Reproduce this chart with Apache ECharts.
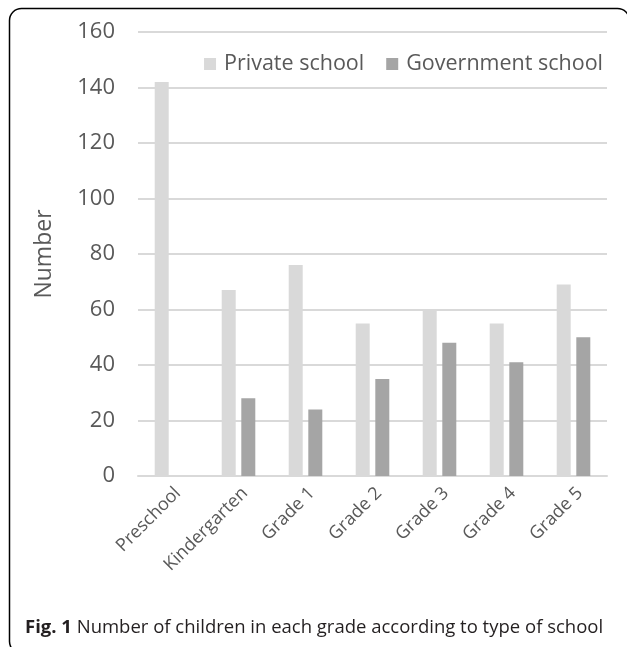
<!DOCTYPE html>
<html>
<head>
<meta charset="utf-8">
<script src="https://cdn.jsdelivr.net/npm/echarts@6/dist/echarts.min.js"></script>
<style>
html,body{margin:0;padding:0;background:#fff;}
#chart{width:627px;height:647px;}
</style>
</head>
<body>
<div id="chart"></div>
<script>
const categories = ['Preschool', 'Kindergarten', 'Grade 1', 'Grade 2', 'Grade 3', 'Grade 4', 'Grade 5'];
const privateSchool = [142, 67, 76, 55, 60, 55, 69];
const governmentSchool = [0, 28, 24, 35, 48, 41, 50];
const seriesNames = ['Private school', 'Government school'];
const yAxisTitle = 'Number';
const captionBold = 'Fig. 1';
const captionText = ' Number of children in each grade according to type of school';

const FONT = 'Open Sans';
const chart = echarts.init(document.getElementById('chart'), null, {renderer: 'canvas'});
chart.setOption({
  backgroundColor: '#fff',
  animation: false,
  grid: {left: 138, right: 20, top: 32, bottom: 171, containLabel: false},
  legend: {
    right: 19, top: 48,
    itemWidth: 12, itemHeight: 12, itemGap: 22,
    icon: 'rect',
    textStyle: {fontFamily: FONT, fontSize: 21.5, color: '#595959', padding: [0, 0, 0, 3]},
    data: seriesNames
  },
  xAxis: {
    type: 'category',
    data: categories,
    axisLine: {show: true, lineStyle: {color: '#d9d9d9', width: 2}},
    axisTick: {show: false},
    axisLabel: {rotate: 45, fontFamily: FONT, fontSize: 18, color: '#595959', margin: 8, interval: 0, verticalAlign: 'top'}
  },
  yAxis: {
    type: 'value',
    min: 0, max: 160, interval: 20,
    name: yAxisTitle,
    nameLocation: 'middle',
    nameGap: 82,
    nameTextStyle: {fontFamily: FONT, fontSize: 23, color: '#595959'},
    axisLine: {show: false},
    axisTick: {show: false},
    axisLabel: {fontFamily: FONT, fontSize: 22, color: '#595959', margin: 23},
    splitLine: {lineStyle: {color: '#d9d9d9', width: 2}}
  },
  series: [
    {name: seriesNames[0], type: 'bar', data: privateSchool, barWidth: 14, barGap: '40%',
     itemStyle: {color: '#d9d9d9'}},
    {name: seriesNames[1], type: 'bar', data: governmentSchool, barWidth: 14, barGap: '40%',
     itemStyle: {color: '#a5a5a5'}}
  ],
  graphic: [
    {type: 'rect', shape: {x: 9.5, y: 8.5, width: 620, height: 645, r: 12},
     style: {fill: 'none', stroke: '#000', lineWidth: 1.5}, silent: true},
    {type: 'text', left: 25, top: 618,
     style: {
       text: '{b|' + captionBold + '}{n|' + captionText + '}',
       rich: {
         b: {fontFamily: FONT, fontSize: 18.5, fontWeight: 'bold', fill: '#231f20'},
         n: {fontFamily: FONT, fontSize: 18.5, fill: '#231f20'}
       }
     }}
  ]
});
</script>
</body>
</html>
